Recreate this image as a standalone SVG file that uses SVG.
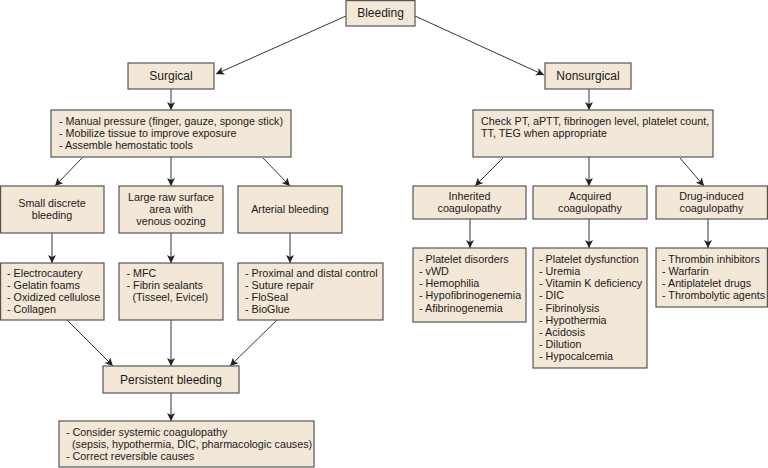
<svg xmlns="http://www.w3.org/2000/svg" width="768" height="468" viewBox="0 0 768 468">
<defs>
<marker id="ah" viewBox="0 0 10 10" refX="10" refY="5" markerWidth="8" markerHeight="8" markerUnits="userSpaceOnUse" orient="auto">
<path d="M0,0 L10,5 L0,10 L2.5,5 Z" fill="#222"/>
</marker>
<style>
.b{fill:#f3e7d8;stroke:#555;stroke-width:1.2}
.t{font-family:"Liberation Sans",Arial,sans-serif;font-size:10.75px;fill:#1a1a1a}
.h{font-family:"Liberation Sans",Arial,sans-serif;font-size:12px;fill:#1a1a1a}
.c{text-anchor:middle}
.e{stroke:#333;stroke-width:1;fill:none;marker-end:url(#ah)}
</style>
</defs>
<rect width="768" height="468" fill="#fff"/>
<g id="connectors">
<line class="e" x1="346" y1="16" x2="216" y2="74"/>
<line class="e" x1="415" y1="16" x2="544" y2="75"/>
<line class="e" x1="171" y1="89" x2="171" y2="110"/>
<line class="e" x1="589" y1="89" x2="589" y2="110"/>
<line class="e" x1="82" y1="158" x2="55" y2="186"/>
<line class="e" x1="171" y1="157" x2="171" y2="186"/>
<line class="e" x1="263" y1="158" x2="290" y2="186"/>
<line class="e" x1="503" y1="158" x2="475" y2="186"/>
<line class="e" x1="589" y1="157" x2="589" y2="186"/>
<line class="e" x1="680" y1="158" x2="704" y2="186"/>
<line class="e" x1="52" y1="233" x2="52" y2="263"/>
<line class="e" x1="171" y1="233" x2="171" y2="263"/>
<line class="e" x1="290" y1="233" x2="290" y2="263"/>
<line class="e" x1="470" y1="219" x2="470" y2="248"/>
<line class="e" x1="589" y1="219" x2="589" y2="248"/>
<line class="e" x1="708" y1="219" x2="708" y2="248"/>
<line class="e" x1="67" y1="320" x2="113" y2="366"/>
<line class="e" x1="171" y1="320" x2="171" y2="366"/>
<line class="e" x1="277" y1="320" x2="230" y2="366"/>
<line class="e" x1="171" y1="393" x2="171" y2="421"/>
</g>
<g id="bleeding">
<rect class="b" x="346" y="0.6" width="69" height="25.4"/>
<text class="h c" x="380.5" y="17.3">Bleeding</text>
</g>
<g id="surgical">
<rect class="b" x="128" y="63" width="86" height="26"/>
<text class="h c" x="171" y="80.3">Surgical</text>
</g>
<g id="nonsurgical">
<rect class="b" x="545" y="63" width="86" height="26"/>
<text class="h c" x="588" y="80.3">Nonsurgical</text>
</g>
<g id="manual">
<rect class="b" x="51" y="110" width="240" height="47"/>
<text class="t" x="59" y="124.5">- Manual pressure (finger, gauze, sponge stick)</text>
<text class="t" x="59" y="136.5">- Mobilize tissue to improve exposure</text>
<text class="t" x="59" y="148.5">- Assemble hemostatic tools</text>
</g>
<g id="check">
<rect class="b" x="473" y="110" width="240" height="47"/>
<text class="t" x="481" y="124.5">Check PT, aPTT, fibrinogen level, platelet count,</text>
<text class="t" x="481" y="136.5">TT, TEG when appropriate</text>
</g>
<g id="small">
<rect class="b" x="0.6" y="186" width="103.4" height="47"/>
<text class="t c" x="52" y="206.8">Small discrete</text>
<text class="t c" x="52" y="218.8">bleeding</text>
</g>
<g id="large">
<rect class="b" x="119" y="186" width="104" height="47"/>
<text class="t c" x="171" y="200.5">Large raw surface</text>
<text class="t c" x="171" y="212.8">area with</text>
<text class="t c" x="171" y="225">venous oozing</text>
</g>
<g id="arterial">
<rect class="b" x="238" y="186" width="104" height="47"/>
<text class="t c" x="290" y="212.8">Arterial bleeding</text>
</g>
<g id="inherited">
<rect class="b" x="413" y="186" width="113" height="33"/>
<text class="t c" x="469.5" y="199.5">Inherited</text>
<text class="t c" x="469.5" y="212">coagulopathy</text>
</g>
<g id="acquired">
<rect class="b" x="533" y="186" width="114" height="33"/>
<text class="t c" x="590" y="199.5">Acquired</text>
<text class="t c" x="590" y="212">coagulopathy</text>
</g>
<g id="druginduced">
<rect class="b" x="656" y="186" width="111.4" height="33"/>
<text class="t c" x="711.5" y="199.5">Drug-induced</text>
<text class="t c" x="711.5" y="212">coagulopathy</text>
</g>
<g id="smalllist">
<rect class="b" x="0.6" y="263" width="103.4" height="57"/>
<text class="t" x="7" y="276.5">- Electrocautery</text>
<text class="t" x="7" y="288.7">- Gelatin foams</text>
<text class="t" x="7" y="300.9">- Oxidized cellulose</text>
<text class="t" x="7" y="313.1">- Collagen</text>
</g>
<g id="largelist">
<rect class="b" x="119" y="263" width="104" height="57"/>
<text class="t" x="126.5" y="276.5">- MFC</text>
<text class="t" x="126.5" y="288.7">- Fibrin sealants</text>
<text class="t" x="132.5" y="300.9">(Tisseel, Evicel)</text>
</g>
<g id="arteriallist">
<rect class="b" x="238" y="263" width="145" height="57"/>
<text class="t" x="245" y="276.5">- Proximal and distal control</text>
<text class="t" x="245" y="288.7">- Suture repair</text>
<text class="t" x="245" y="300.9">- FloSeal</text>
<text class="t" x="245" y="313.1">- BioGlue</text>
</g>
<g id="inheritedlist">
<rect class="b" x="413" y="248" width="113" height="74"/>
<text class="t" x="419" y="262.8">- Platelet disorders</text>
<text class="t" x="419" y="275">- vWD</text>
<text class="t" x="419" y="287.2">- Hemophilia</text>
<text class="t" x="419" y="299.4">- Hypofibrinogenemia</text>
<text class="t" x="419" y="311.6">- Afibrinogenemia</text>
</g>
<g id="acquiredlist">
<rect class="b" x="533" y="248" width="114" height="120"/>
<text class="t" x="539" y="262.8">- Platelet dysfunction</text>
<text class="t" x="539" y="275">- Uremia</text>
<text class="t" x="539" y="287.2">- Vitamin K deficiency</text>
<text class="t" x="539" y="299.4">- DIC</text>
<text class="t" x="539" y="311.6">- Fibrinolysis</text>
<text class="t" x="539" y="323.8">- Hypothermia</text>
<text class="t" x="539" y="336">- Acidosis</text>
<text class="t" x="539" y="348.2">- Dilution</text>
<text class="t" x="539" y="360.4">- Hypocalcemia</text>
</g>
<g id="druglist">
<rect class="b" x="656" y="248" width="111.4" height="59"/>
<text class="t" x="662" y="262.8">- Thrombin inhibitors</text>
<text class="t" x="662" y="275">- Warfarin</text>
<text class="t" x="662" y="287.2">- Antiplatelet drugs</text>
<text class="t" x="662" y="299.4">- Thrombolytic agents</text>
</g>
<g id="persistent">
<rect class="b" x="103" y="366" width="136" height="27"/>
<text class="h c" x="171" y="384.3">Persistent bleeding</text>
</g>
<g id="consider">
<rect class="b" x="59" y="421" width="255" height="46"/>
<text class="t" x="66" y="435.5">- Consider systemic coagulopathy</text>
<text class="t" x="72" y="447.9">(sepsis, hypothermia, DIC, pharmacologic causes)</text>
<text class="t" x="66" y="460.3">- Correct reversible causes</text>
</g>
</svg>
